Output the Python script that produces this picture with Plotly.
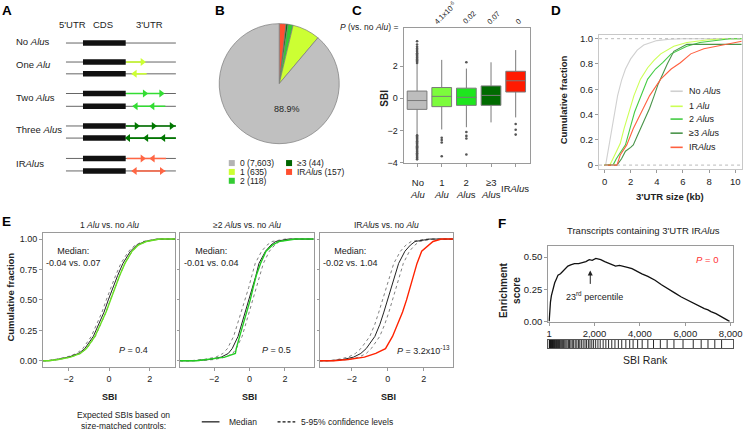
import plotly.graph_objects as go

W, H = 755, 436
FONT = "Liberation Sans, Arial, Helvetica, sans-serif"

# ---------------- data ----------------
# B: pie (clockwise from 12 o'clock)
pie_names = ["IRAlus", ">=3", "2", "1", "0"]
pie_counts = [157, 44, 118, 635, 7603]
pie_colors = ["#ff4f2f", "#006600", "#33cc33", "#ccff33", "#c0c0c0"]
pie_pct_label = "88.9%"
legB_text = ["0 (7,603)", "1 (635)", "2 (118)", "≥3 (44)", "IR<i>Alu</i>s (157)"]
legB_color = ["#b3b3b3", "#ccff33", "#33cc33", "#006600", "#ff4f2f"]

# C: box plot of SBI
box_labels = ["No<br><i>Alu</i>", "1<br><i>Alu</i>", "2<br><i>Alu</i>s", "≥3<br><i>Alu</i>s", "IR<i>Alu</i>s"]
box_q1 = [-0.69, -0.52, -0.44, -0.44, 0.39]
box_med = [-0.14, 0.12, 0.06, 0.18, 1.09]
box_q3 = [0.45, 0.67, 0.63, 0.77, 1.68]
box_low = [-2.25, -1.94, -1.80, -1.50, -1.19]
box_high = [2.15, 2.39, 1.85, 2.24, 3.00]
box_outliers = [
    [2.2, 2.28, 2.35, 2.42, 2.5, 2.57, 2.65, 2.72, 2.8, 2.9, 3.0, 3.1, 3.2, 3.35, 3.55,
     -2.3, -2.38, -2.45, -2.52, -2.6, -2.68, -2.75, -2.82, -2.9, -2.98, -3.05, -3.12,
     -3.2, -3.28, -3.35, -3.42, -3.5, -3.58, -3.65, -3.72, -3.8],
    [-2.46, -2.6, -2.75, -3.61],
    [2.24, -2.1, -2.34, -2.5, -3.5],
    [],
    [-1.6, -1.96, -2.26],
]
box_colors = ["#bdbdbd", "#7cfc3c", "#1ee61e", "#006b00", "#ff1a00"]
box_pvals = ["4.1x10<sup>-6</sup>", "0.02", "0.07", "0"]

# D: cumulative fraction vs 3'UTR size (kb)
d_names = ["No <i>Alu</i>s", "1 <i>Alu</i>", "2 <i>Alu</i>s", "≥3 <i>Alu</i>s", "IR<i>Alu</i>s"]
d_colors = ["#d0d0d0", "#ccff55", "#44cc44", "#4a944a", "#ff6040"]
d_kb = [
    [0, 0.08, 0.15, 0.25, 0.4, 0.6, 0.8, 1.0, 1.3, 1.6, 2.0, 2.5, 3.0, 3.5, 4.0, 5.0, 6.0, 10.5],
    [0, 0.4, 0.55, 0.8, 1.2, 1.5, 1.85, 2.25, 2.75, 3.3, 3.8, 4.3, 5.3, 6.3, 7.8, 9.0, 10.5],
    [0, 0.65, 0.9, 1.2, 1.6, 1.95, 2.3, 2.8, 3.3, 3.9, 4.45, 5.1, 6.3, 7.3, 8.6, 9.6, 10.5],
    [0, 0.95, 1.3, 1.6, 2.0, 2.2, 2.5, 2.8, 3.1, 3.45, 3.8, 4.1, 4.5, 4.8, 5.3, 6.3, 10.5],
    [0, 0.95, 1.2, 1.7, 2.2, 2.85, 3.2, 3.45, 4.3, 5.1, 5.8, 6.6, 7.6, 9.1, 10.3, 10.5],
]
d_frac = [
    [0, 0, 0.04, 0.1, 0.2, 0.3, 0.44, 0.55, 0.67, 0.76, 0.84, 0.91, 0.95, 0.97, 0.985, 0.995, 0.999, 1.0],
    [0, 0, 0.03, 0.08, 0.17, 0.29, 0.42, 0.55, 0.68, 0.77, 0.83, 0.88, 0.94, 0.97, 0.99, 1.0, 1.0],
    [0, 0, 0.05, 0.1, 0.16, 0.29, 0.42, 0.55, 0.68, 0.76, 0.81, 0.88, 0.94, 0.97, 0.99, 1.0, 1.0],
    [0, 0, 0.05, 0.11, 0.14, 0.16, 0.23, 0.3, 0.36, 0.45, 0.55, 0.64, 0.73, 0.8, 0.9, 0.955, 0.955],
    [0, 0, 0.08, 0.16, 0.29, 0.42, 0.5, 0.55, 0.68, 0.76, 0.81, 0.88, 0.92, 0.95, 0.97, 0.98],
]

# E: cumulative fractions (shared levels) and SBI quantiles per curve
e_frac = [0.0, 0.0, 0.01, 0.03, 0.06, 0.1, 0.2, 0.3, 0.4, 0.5, 0.6, 0.7, 0.8, 0.9, 0.95, 0.98, 1.0, 1.0]
e_titles = ["1 <i>Alu</i> vs. no <i>Alu</i>", "≥2 <i>Alu</i>s vs. no <i>Alu</i>", "IR<i>Alu</i>s vs. no <i>Alu</i>"]
e_medians = ["Median:<br>-0.04 vs. 0.07", "Median:<br>-0.01 vs. 0.04", "Median:<br>-0.02 vs. 1.04"]
e_pvals = ["<i>P</i> = 0.4", "<i>P</i> = 0.5", "<i>P</i> = 3.2x10<sup>-13</sup>"]
e_obs_colors = ["#66e022", "#22cc22", "#ff2200"]
e_obs = [
    [-3.26, -3.0, -2.5, -1.9, -1.42, -1.12, -0.7, -0.42, -0.15, 0.07, 0.29, 0.52, 0.78, 1.13, 1.43, 1.83, 2.5, 3.26],
    [-3.92, -3.0, -2.4, -1.4, -0.8, -0.75, -0.56, -0.35, -0.15, 0.04, 0.2, 0.38, 0.62, 0.93, 1.29, 1.66, 2.6, 3.62],
    [-3.79, -3.0, -2.2, -1.3, -0.67, -0.13, 0.26, 0.56, 0.82, 1.04, 1.24, 1.42, 1.62, 1.88, 2.24, 2.51, 2.97, 3.62],
]
e_med = [
    [-3.26, -3.0, -2.6, -2.0, -1.5, -1.2, -0.78, -0.5, -0.25, -0.04, 0.18, 0.42, 0.68, 1.05, 1.36, 1.76, 2.4, 3.26],
    [-3.92, -3.2, -2.3, -1.6, -1.2, -0.98, -0.65, -0.45, -0.22, -0.01, 0.17, 0.36, 0.53, 0.9, 1.2, 1.47, 2.2, 3.62],
    [-3.79, -3.2, -2.5, -1.9, -1.5, -1.2, -0.72, -0.44, -0.22, -0.02, 0.17, 0.36, 0.6, 0.95, 1.25, 1.51, 2.33, 3.62],
]
e_ci_low = [
    [-3.26, -3.1, -2.7, -2.1, -1.6, -1.3, -0.88, -0.6, -0.35, -0.14, 0.08, 0.32, 0.58, 0.96, 1.28, 1.68, 2.3, 3.26],
    [-3.92, -3.4, -2.6, -1.9, -1.5, -1.25, -0.9, -0.68, -0.45, -0.24, -0.05, 0.13, 0.32, 0.68, 0.98, 1.27, 2.0, 3.62],
    [-3.79, -3.4, -2.8, -2.2, -1.8, -1.5, -1.0, -0.72, -0.5, -0.29, -0.1, 0.1, 0.33, 0.7, 1.0, 1.3, 2.1, 3.62],
]
e_ci_high = [
    [-3.26, -2.9, -2.5, -1.9, -1.4, -1.1, -0.68, -0.4, -0.15, 0.06, 0.28, 0.52, 0.78, 1.14, 1.44, 1.84, 2.5, 3.26],
    [-3.92, -3.0, -2.0, -1.35, -0.95, -0.75, -0.42, -0.22, 0.01, 0.22, 0.4, 0.6, 0.78, 1.12, 1.42, 1.68, 2.4, 3.62],
    [-3.79, -3.0, -2.2, -1.6, -1.2, -0.92, -0.45, -0.17, 0.06, 0.25, 0.44, 0.63, 0.86, 1.2, 1.5, 1.75, 2.5, 3.62],
]

# F: running enrichment score vs SBI rank, and IRAlus hit ranks
f_rank = [1, 30, 58, 100, 180, 246, 320, 391, 500, 609, 720, 826, 950, 1116, 1300, 1478, 1620, 1768, 1900,
          2058, 2160, 2275, 2450, 2638, 2800, 2928, 3100, 3290, 3450, 3652, 3850, 4087, 4350, 4667, 4950,
          5246, 5550, 5826, 6100, 6406, 6650, 6841, 7000, 7130, 7350, 7565, 7750, 7950]
f_es = [0, 0.1, 0.15, 0.2, 0.26, 0.3, 0.33, 0.36, 0.37, 0.39, 0.41, 0.43, 0.44, 0.45, 0.45, 0.46, 0.465, 0.48, 0.475,
        0.49, 0.485, 0.48, 0.465, 0.45, 0.44, 0.43, 0.435, 0.43, 0.42, 0.41, 0.39, 0.37, 0.35, 0.32, 0.285,
        0.25, 0.22, 0.19, 0.165, 0.14, 0.115, 0.10, 0.09, 0.076, 0.06, 0.038, 0.02, 0.0]
f_hits = [5, 20, 35, 50, 70, 90, 110, 130, 150, 175, 200, 220, 245, 270, 300, 330, 360, 390, 420, 450, 480,
          520, 560, 600, 640, 690, 740, 790, 850, 900, 960, 1020, 1080, 1150, 1220, 1290, 1350, 1420, 1500,
          1580, 1650, 1730, 1800, 1880, 1960, 2050, 2150, 2250, 2380, 2500, 2620, 2760, 2900, 3050, 3200,
          3380, 3550, 3700, 3900, 4100, 4350, 4600, 4900, 5200, 5500, 5900, 6350, 6700, 7000, 7300, 7600]
f_xticks = [1, 2000, 4000, 6000, 8000]
f_xticktext = ["1", "2,000", "4,000", "6,000", "8,000"]

# A: schematic definition
a_headers = ["5'UTR", "CDS", "3'UTR"]
a_labels = ["No <i>Alu</i>s", "One <i>Alu</i>", "Two <i>Alu</i>s", "Three <i>Alu</i>s", "IR<i>Alu</i>s"]
a_colors = [None, "#ccff33", "#33dd33", "#007700", "#ff6644"]

# ---------------- helpers ----------------
def dx(a, b):
    return [a / W, b / W]


def dy(top, bottom):
    return [1 - bottom / H, 1 - top / H]


fig = go.Figure()
ann = []


def T(x, y, text, size=9, xa="center", ya="middle", color="#222", **kw):
    ann.append(dict(x=x, y=y, xref="x8", yref="y8", text=text, showarrow=False,
                    xanchor=xa, yanchor=ya, font=dict(size=size, color=color, family=FONT), **kw))


def ov_line(xs, ys, color, width=1, dash="solid"):
    fig.add_trace(go.Scatter(x=xs, y=ys, mode="lines", line=dict(color=color, width=width, dash=dash),
                             xaxis="x8", yaxis="y8", hoverinfo="skip", showlegend=False))


# ---------------- panel A ----------------
for x, t in zip([72, 102.5, 149.5], a_headers):
    T(x, 23.3, t, size=9.5)
a_label_y = [40, 64, 97, 129.5, 164]
for t, y in zip(a_labels, a_label_y):
    T(12, y, t, size=9.5, xa="left")

# rows: (group index, line y, segment start, segment end, arrow list)
a_rows = [
    (0, 41.7, None, None, []),
    (1, 61, 126, 145, [(142.7, "r")]),
    (1, 73, 132, 147, [(135, "l")]),
    (2, 93, 126, 164, [(145, "r"), (161.7, "r")]),
    (2, 106, 133, 166, [(136, "l"), (153, "l")]),
    (3, 126, 126, 176.7, [(136.7, "r"), (154, "r"), (172.3, "r")]),
    (3, 138.3, 126, 176.7, [(128.3, "l"), (146.7, "l"), (164, "l")]),
    (4, 159, 126.7, 166.7, [(142.7, "r"), (153.3, "l")]),
    (4, 171.7, 132, 166, [(135, "l"), (162.3, "r")]),
]
for g, y, s0, s1, arrows in a_rows:
    ov_line([65, 176.7], [y, y], "#666666", 1)
    ov_line([82.3, 125.7], [y, y], "#111111", 5.5)
    if s0 is not None:
        ov_line([s0, s1], [y, y], a_colors[g], 1.6)
        fig.add_trace(go.Scatter(
            x=[a[0] for a in arrows], y=[y] * len(arrows), mode="markers",
            marker=dict(symbol=["triangle-right" if a[1] == "r" else "triangle-left" for a in arrows],
                        size=7, color=a_colors[g], line=dict(width=0)),
            xaxis="x8", yaxis="y8", hoverinfo="skip", showlegend=False))

# ---------------- panel B ----------------
fig.add_trace(go.Pie(values=pie_counts, labels=pie_names, sort=False, direction="clockwise", rotation=0,
                     marker=dict(colors=pie_colors, line=dict(color="#7a7a7a", width=0.7)),
                     textinfo="none", hoverinfo="skip", showlegend=False,
                     domain=dict(x=dx(220.7, 342.7), y=dy(22, 144))))
T(290, 109, pie_pct_label, size=9)
legB_pos = [(233.5, 163.7), (233.5, 172.7), (233.5, 181.7), (291.7, 163.7), (291.7, 172.7)]
fig.add_trace(go.Scatter(x=[p[0] for p in legB_pos], y=[p[1] for p in legB_pos], mode="markers",
                         marker=dict(symbol="square", size=6, color=legB_color, line=dict(width=0)),
                         xaxis="x8", yaxis="y8", hoverinfo="skip", showlegend=False))
for (x, y), t in zip(legB_pos, legB_text):
    T(x + 6, y, t, size=8.5, xa="left")

# ---------------- panel C ----------------
for i in range(len(box_labels)):
    fig.add_trace(go.Box(x=[i], q1=[box_q1[i]], median=[box_med[i]], q3=[box_q3[i]],
                         lowerfence=[box_low[i]], upperfence=[box_high[i]],
                         fillcolor=box_colors[i], line=dict(color="#7a7a7a", width=1),
                         width=0.8, whiskerwidth=0, boxpoints=False, hoverinfo="skip",
                         showlegend=False, xaxis="x", yaxis="y"))
    if box_outliers[i]:
        fig.add_trace(go.Scatter(x=[i] * len(box_outliers[i]), y=box_outliers[i], mode="markers",
                                 marker=dict(size=2.6, color="#555555"), xaxis="x", yaxis="y",
                                 hoverinfo="skip", showlegend=False))
box_cx = [421.7, 446.7, 471.7, 496.7, 521.7]
for x, t in zip(box_cx, box_labels):
    T(x, 190, t, size=9.5)
T(404, 25, "<i>P</i> (vs. no <i>Alu</i>) =", size=8.5, xa="right")
for x, t in zip(box_cx[1:], box_pvals):
    T(x + 3, 27, t, size=7.5, ya="bottom", textangle=-45)
T(388.5, 98, "<b>SBI</b>", size=10, textangle=-90)

# ---------------- panel D ----------------
for i in range(len(d_names)):
    fig.add_trace(go.Scatter(x=d_kb[i], y=d_frac[i], mode="lines",
                             line=dict(color=d_colors[i], width=1.1),
                             xaxis="x2", yaxis="y2", hoverinfo="skip", showlegend=False))
d_leg_y = [90.7, 106, 119, 133.3, 147.7]
for i, y in enumerate(d_leg_y):
    ov_line([679.3, 691.7], [y, y], d_colors[i], 1.6)
    T(696, y, d_names[i], size=9, xa="left")
T(570, 99, "<b>Cumulative fraction</b>", size=9.5, textangle=-90)
T(678.5, 198, "<b>3'UTR size (kb)</b>", size=9.5)

# ---------------- panel E ----------------
e_axes = [("x3", "y3"), ("x4", "y4"), ("x5", "y5")]
e_title_x = [108.8, 249, 390.5]
e_med_x = [73, 212.5, 354]
e_p_x = [133.5, 279.3, 428]
e_sbi_x = [108.8, 251, 393]
for k, (xa_, ya_) in enumerate(e_axes):
    for xs in (e_ci_low[k], e_ci_high[k]):
        fig.add_trace(go.Scatter(x=xs, y=e_frac, mode="lines", line=dict(color="#808080", width=1, dash="dot"),
                                 xaxis=xa_, yaxis=ya_, hoverinfo="skip", showlegend=False))
    fig.add_trace(go.Scatter(x=e_med[k], y=e_frac, mode="lines", line=dict(color="#222222", width=1),
                             xaxis=xa_, yaxis=ya_, hoverinfo="skip", showlegend=False))
    fig.add_trace(go.Scatter(x=e_obs[k], y=e_frac, mode="lines", line=dict(color=e_obs_colors[k], width=1.4),
                             xaxis=xa_, yaxis=ya_, hoverinfo="skip", showlegend=False))
    T(e_title_x[k], 227, e_titles[k], size=8.5)
    T(e_med_x[k], 259, e_medians[k], size=9)
    T(e_p_x[k], 354, e_pvals[k], size=9)
    T(e_sbi_x[k], 401.7, "<b>SBI</b>", size=9)
T(8.5, 300, "<b>Cumulative fraction</b>", size=9.5, textangle=-90)
T(123.3, 425.5, "Expected SBIs based on<br>size-matched controls:", size=8.5)
ov_line([203, 221], [426.7, 426.7], "#111111", 1.2)
T(229, 426.7, "Median", size=8.5, xa="left")
ov_line([280, 298], [426.7, 426.7], "#111111", 1.2, dash="3px,2px")
T(302, 426.7, "5-95% confidence levels", size=8.5, xa="left")

# ---------------- panel F ----------------
fig.add_trace(go.Scatter(x=f_rank, y=f_es, mode="lines", line=dict(color="#111111", width=1.3),
                         xaxis="x6", yaxis="y6", hoverinfo="skip", showlegend=False))
bx, by = [], []
for r in f_hits:
    bx += [r, r, None]
    by += [0, 1, None]
fig.add_trace(go.Scatter(x=bx, y=by, mode="lines", line=dict(color="#111111", width=0.9),
                         xaxis="x7", yaxis="y7", hoverinfo="skip", showlegend=False))
T(651.7, 232.7, "Transcripts containing 3'UTR IR<i>Alu</i>s", size=9.5)
T(716.7, 261.7, "<i>P</i> = 0", size=9.5, color="#ff3333")
T(602, 299.3, "23<sup>rd</sup> percentile", size=9)
T(517, 293, "<b>Enrichment<br>score</b>", size=10, textangle=-90)
T(654, 364, "SBI Rank", size=10.5)
ann.append(dict(x=1813, y=0.395, xref="x6", yref="y6", ax=1813, ay=0.28, axref="x6", ayref="y6",
                text="", showarrow=True, arrowhead=2, arrowsize=1, arrowwidth=1, arrowcolor="#222"))

# panel letters
for x, y, t in [(5, 8.3, "A"), (221.7, 8.3, "B"), (361, 8.3, "C"), (563, 8.3, "D"), (4.5, 223, "E"), (508, 225, "F")]:
    T(x, y, "<b>%s</b>" % t, size=13.5, color="#000")

# ---------------- layout ----------------
frame = dict(showline=True, mirror=True, linecolor="#9a9a9a", linewidth=1, showgrid=False, zeroline=False,
             ticks="outside", ticklen=3, tickcolor="#9a9a9a", tickfont=dict(size=9, color="#222", family=FONT))

ey_dom = dy(234.5, 371.3)
layout = dict(
    width=W, height=H, margin=dict(l=0, r=0, t=0, b=0), paper_bgcolor="white",
    plot_bgcolor="rgba(0,0,0,0)", showlegend=False, hovermode=False,
    font=dict(family=FONT, size=9, color="#222"),
    xaxis=dict(frame, domain=dx(408, 537), range=[-0.55, 4.6], tickvals=[0, 1, 2, 3, 4],
               showticklabels=False, anchor="y"),
    yaxis=dict(frame, domain=dy(26, 164), range=[-4.05, 4.4], tickvals=[-4, -2, 0, 2], anchor="x"),
    xaxis2=dict(frame, domain=dx(606.7, 751.7), range=[-0.42, 10.5], tickvals=[0, 2, 4, 6, 8, 10],
                anchor="y2", tickfont=dict(size=9.5, color="#222", family=FONT), linecolor="#c8c8c8"),
    yaxis2=dict(frame, domain=dy(33.3, 170), range=[-0.033, 1.031], tickvals=[0, 0.2, 0.4, 0.6, 0.8, 1.0],
                ticktext=["0", "0.2", "0.4", "0.6", "0.8", "1.0"], anchor="x2",
                tickfont=dict(size=9.5, color="#222", family=FONT), linecolor="#c8c8c8"),
    xaxis3=dict(frame, domain=dx(41.7, 176), range=[-3.26, 3.26], tickvals=[-2, 0, 2], anchor="y3"),
    yaxis3=dict(frame, domain=ey_dom, range=[-0.054, 1.052], tickvals=[0, 0.25, 0.5, 0.75, 1.0],
                tickformat=".2f", anchor="x3"),
    xaxis4=dict(frame, domain=dx(181, 316.7), range=[-3.92, 3.62], tickvals=[-2, 0, 2], anchor="y4"),
    yaxis4=dict(frame, domain=ey_dom, range=[-0.054, 1.052], tickvals=[0, 0.25, 0.5, 0.75, 1.0],
                showticklabels=False, ticklen=2, anchor="x4"),
    xaxis5=dict(frame, domain=dx(322.7, 458.3), range=[-3.79, 3.62], tickvals=[-2, 0, 2], anchor="y5"),
    yaxis5=dict(frame, domain=ey_dom, range=[-0.054, 1.052], tickvals=[0, 0.25, 0.5, 0.75, 1.0],
                showticklabels=False, ticklen=2, anchor="x5"),
    xaxis6=dict(frame, domain=dx(555, 742.3), range=[-42, 8080], tickvals=f_xticks, ticktext=f_xticktext,
                anchor="y6", tickfont=dict(size=9.5, color="#222", family=FONT)),
    yaxis6=dict(frame, domain=dy(248.3, 325), range=[-0.003, 0.584], tickvals=[0, 0.25, 0.5],
                tickformat=".2f", anchor="x6", tickfont=dict(size=9.5, color="#222", family=FONT)),
    xaxis7=dict(frame, domain=dx(555, 742.3), range=[-42, 8080], ticks="", showticklabels=False, anchor="y7",
                linecolor="#555"),
    yaxis7=dict(frame, domain=dy(343.3, 351.7), range=[0, 1], ticks="", showticklabels=False, anchor="x7",
                linecolor="#555"),
    xaxis8=dict(domain=[0, 1], range=[0, W], visible=False, anchor="y8", fixedrange=True),
    yaxis8=dict(domain=[0, 1], range=[H, 0], visible=False, anchor="x8", fixedrange=True),
    annotations=ann,
    shapes=[
        dict(type="line", xref="x2 domain", yref="y2", x0=0, x1=1, y0=1, y1=1,
             line=dict(color="#bbbbbb", width=1, dash="dot")),
        dict(type="line", xref="x2 domain", yref="y2", x0=0, x1=1, y0=0, y1=0,
             line=dict(color="#bbbbbb", width=1, dash="dot")),
    ],
)
fig.update_layout(layout)
fig.write_html("out.html", config={"displayModeBar": False, "staticPlot": True},
               post_script="document.body.style.margin='0px';document.body.style.padding='0px';")
